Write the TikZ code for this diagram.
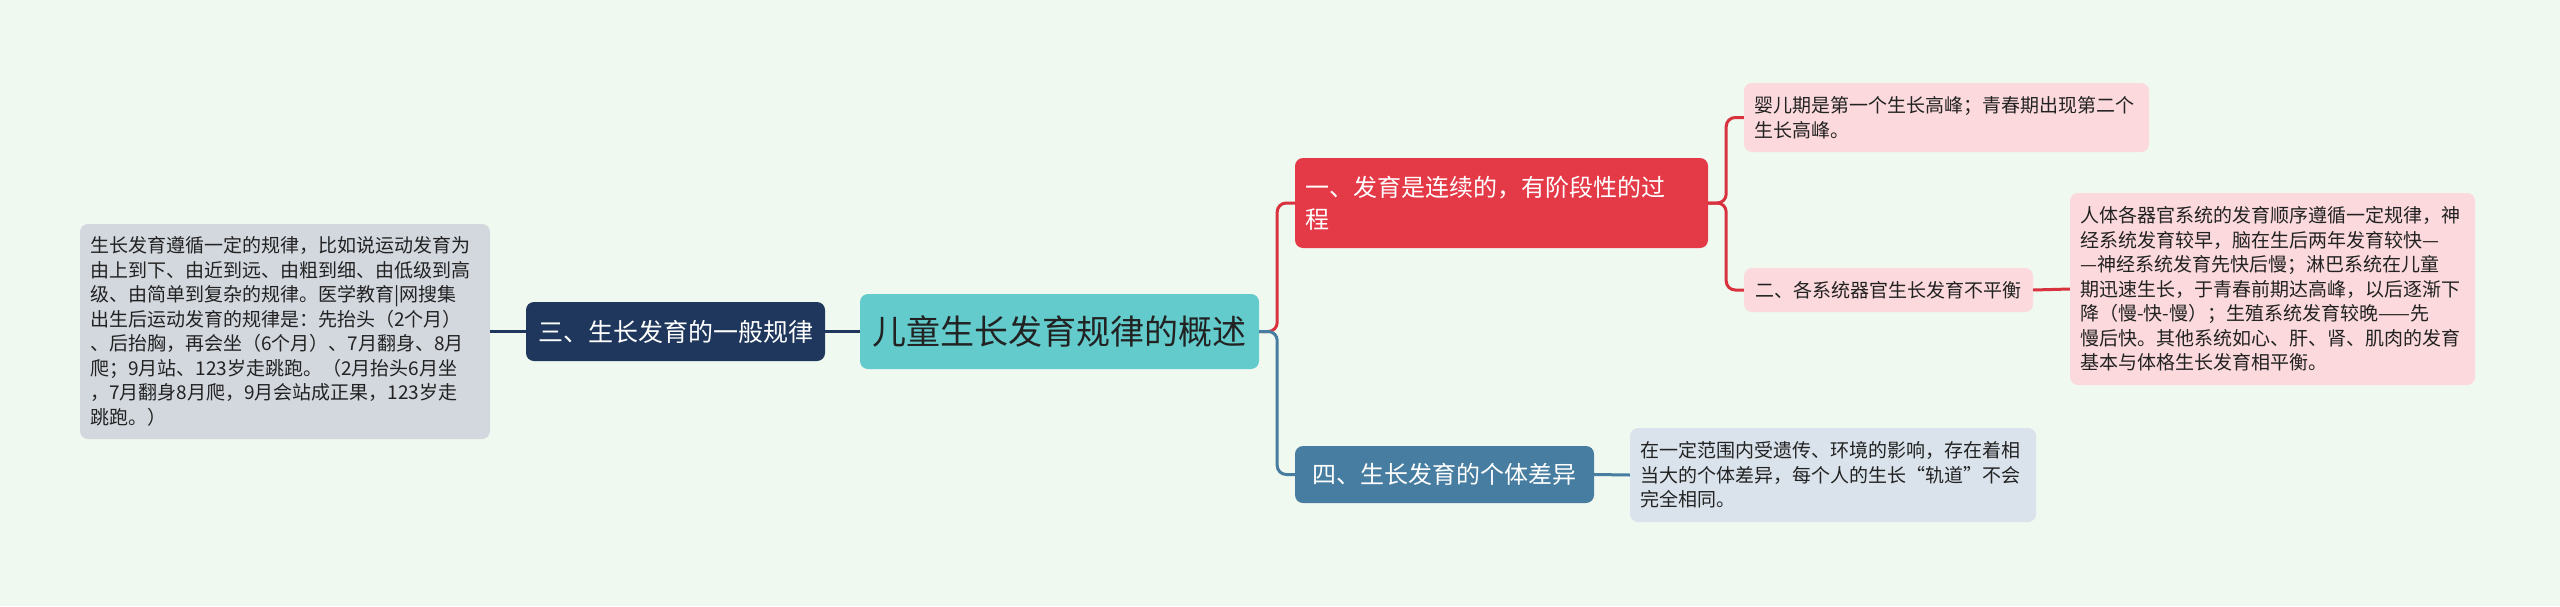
\documentclass[tikz,border=0pt]{standalone}
\usepackage{fontspec}
\setmainfont{Noto Sans CJK SC}
\definecolor{bgc}{HTML}{F0F9EF}
\definecolor{centerc}{HTML}{63CBCC}
\definecolor{navyc}{HTML}{1F375C}
\definecolor{redc}{HTML}{E43A48}
\definecolor{pinkc}{HTML}{FBD9DC}
\definecolor{bluec}{HTML}{467DA0}
\definecolor{grayc}{HTML}{D3D8DF}
\definecolor{lbluec}{HTML}{DAE3EC}
\definecolor{redline}{HTML}{D8323F}
\definecolor{darktext}{HTML}{222222}
\begin{document}
\begin{tikzpicture}[x=1pt,y=-1pt,
  box/.style={rounded corners=8pt, inner xsep=10pt, inner ysep=0pt, anchor=center},
  leaf/.style={box, align=left, font=\fontsize{19pt}{24.5pt}\selectfont, text=darktext},
  mid/.style={box, align=left, font=\fontsize{24pt}{32pt}\selectfont, text=white},
  conn/.style={line width=3pt, rounded corners=9pt}
]
\fill[bgc] (0,0) rectangle (2560,606);
\useasboundingbox (0,0) rectangle (2560,606);

% central
\node[box, fill=centerc, minimum width=399pt, minimum height=75pt,
      font=\fontsize{34pt}{38pt}\selectfont, text=darktext] (ctr) at (1059.5,331.5) {儿童生长发育规律的概述};

% left
\node[mid, fill=navyc, minimum width=299pt, minimum height=59pt, font=\fontsize{25pt}{32pt}\selectfont] (three) at (675.5,331.5) {三、生长发育的一般规律};
\node[leaf, fill=grayc, text width=390pt, minimum height=215pt] (gray) at (285,331.5) {生长发育遵循一定的规律，比如说运动发育为\\
由上到下、由近到远、由粗到细、由低级到高\\
级、由简单到复杂的规律。医学教育|网搜集\\
出生后运动发育的规律是：先抬头（2个月）\\
、后抬胸，再会坐（6个月）、7月翻身、8月\\
爬；9月站、123岁走跳跑。（2月抬头6月坐\\
，7月翻身8月爬，9月会站成正果，123岁走\\
跳跑。）};

% right upper
\node[mid, fill=redc, text width=393pt, minimum height=90pt] (one) at (1501.5,203) {一、发育是连续的，有阶段性的过\\程};
\node[leaf, fill=pinkc, text width=385pt, minimum height=69pt] (leafA) at (1946.5,117.5) {婴儿期是第一个生长高峰；青春期出现第二个\\生长高峰。};
\node[leaf, fill=pinkc, minimum width=289pt, minimum height=44pt] (two) at (1888.5,290) {二、各系统器官生长发育不平衡};
\node[leaf, fill=pinkc, text width=385pt, minimum height=192pt] (leafB) at (2272.5,289) {人体各器官系统的发育顺序遵循一定规律，神\\
经系统发育较早，脑在生后两年发育较快—\\
—神经系统发育先快后慢；淋巴系统在儿童\\
期迅速生长，于青春前期达高峰，以后逐渐下\\
降（慢-快-慢）；生殖系统发育较晚——先\\
慢后快。其他系统如心、肝、肾、肌肉的发育\\
基本与体格生长发育相平衡。};

% right lower
\node[mid, fill=bluec, minimum width=299pt, minimum height=57pt] (four) at (1444.5,474.5) {四、生长发育的个体差异};
\node[leaf, fill=lbluec, text width=386pt, minimum height=94pt] (leafC) at (1833,475) {在一定范围内受遗传、环境的影响，存在着相\\
当大的个体差异，每个人的生长“轨道”不会\\
完全相同。};

% connectors
\draw[conn, navyc] (ctr.west) -- (three.east);
\draw[conn, navyc] (three.west) -- (gray.east);
\draw[conn, redline] (ctr.east) -- ++(18,0) |- (one.west);
\draw[conn, bluec] (ctr.east) -- ++(18,0) |- (four.west);
\draw[conn, redline] (one.east) -- ++(18,0) |- (leafA.west);
\draw[conn, redline] (one.east) -- ++(18,0) |- (two.west);
\draw[conn, redline] (two.east) -- (leafB.west);
\draw[conn, bluec] (four.east) -- (leafC.west);
\end{tikzpicture}
\end{document}
